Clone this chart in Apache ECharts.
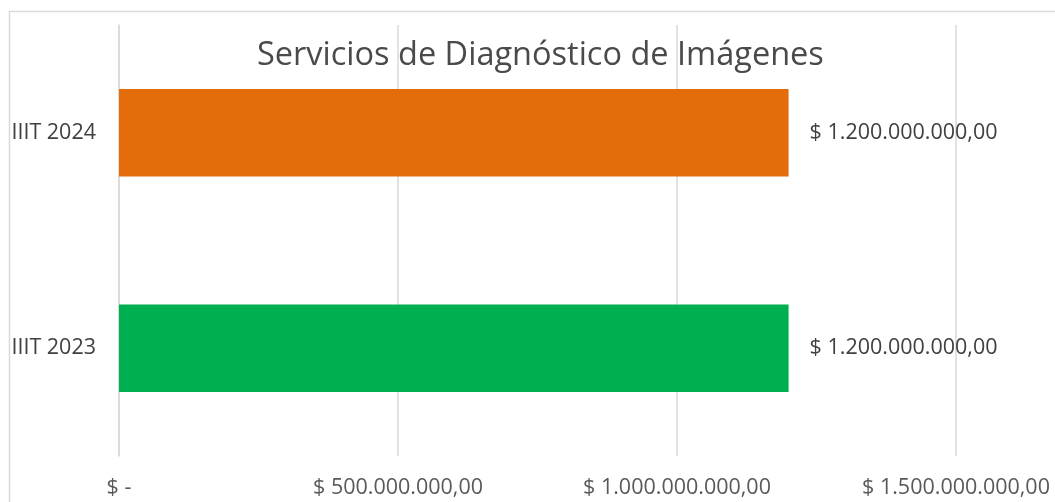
<!DOCTYPE html>
<html>
<head>
<meta charset="utf-8">
<script src="https://cdn.jsdelivr.net/npm/echarts@6/dist/echarts.min.js"></script>
<style>
html, body { margin: 0; padding: 0; background: #fff; }
#chart { width: 1055px; height: 502px; }
</style>
</head>
<body>
<div id="chart"></div>
<script>
var titleText = 'Servicios de Diagnóstico de Imágenes';
var categories = ['IIIT 2023', 'IIIT 2024'];
var values = [1200000000, 1200000000];
var barColors = ['#00b050', '#e46c0a'];
var xTicks = [0, 500000000, 1000000000, 1500000000];

function money(v) {
  if (v === 0) return '$ -';
  var s = Math.round(v).toString().replace(/\B(?=(\d{3})+(?!\d))/g, '.');
  return '$ ' + s + ',00';
}

var myChart = echarts.init(document.getElementById('chart'));
var font = '"Open Sans", sans-serif';

option = {
  backgroundColor: '#fff',
  animation: false,
  title: {
    text: titleText,
    left: 252,
    top: 34,
    textStyle: { fontFamily: font, fontSize: 32.5, fontWeight: 'normal', color: '#4a4a4a' }
  },
  graphic: [{
    type: 'rect',
    shape: { x: 9.5, y: 11.5, width: 1060, height: 500 },
    style: { fill: 'none', stroke: '#d9d9d9', lineWidth: 1.5 },
    z: -1
  }],
  grid: { left: 119, right: 99, top: 25, bottom: 46 },
  xAxis: {
    type: 'value',
    min: xTicks[0],
    max: xTicks[xTicks.length - 1],
    interval: xTicks[1] - xTicks[0],
    axisLine: { show: false },
    axisTick: { show: false },
    splitLine: { lineStyle: { color: '#d9d9d9', width: 1.5 } },
    axisLabel: {
      margin: 21,
      fontFamily: font, fontSize: 21.5, color: '#595959',
      formatter: money
    }
  },
  yAxis: {
    type: 'category',
    data: categories,
    axisLine: { lineStyle: { color: '#d9d9d9', width: 1.5 } },
    axisTick: { length: 8, lineStyle: { color: '#d9d9d9', width: 1.5 } },
    axisLabel: { margin: 23, fontFamily: font, fontSize: 21.5, color: '#404040' }
  },
  series: [{
    type: 'bar',
    barCategoryGap: '59.5%',
    data: values.map(function (v, i) {
      return { value: v, itemStyle: { color: barColors[i] } };
    }),
    label: {
      show: true,
      position: 'right',
      distance: 21,
      fontFamily: font, fontSize: 21.5, color: '#404040',
      formatter: function (p) { return money(p.value); }
    }
  }]
};

myChart.setOption(option);
</script>
</body>
</html>
